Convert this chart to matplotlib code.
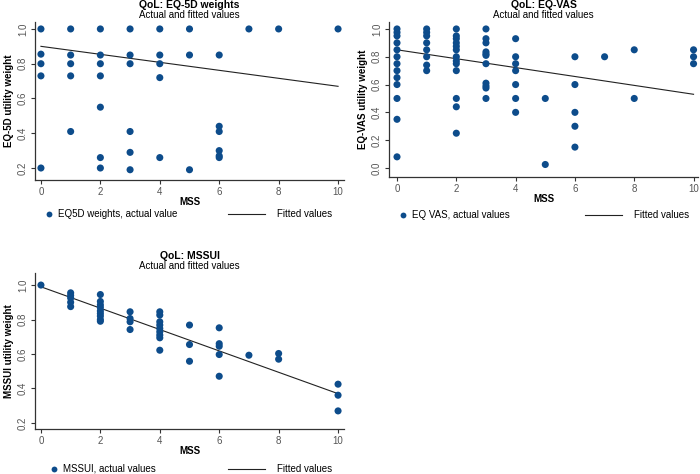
import matplotlib.pyplot as plt
from matplotlib.lines import Line2D

plt.rcParams["font.family"] = ["Liberation Sans", "DejaVu Sans"]

DOT = "#0d4c8b"
SPINE = "#333333"

# EQ-5D weights
eq5d_x = [0, 0, 0, 0, 0,
          1, 1, 1, 1, 1,
          2, 2, 2, 2, 2, 2, 2,
          3, 3, 3, 3, 3, 3,
          4, 4, 4, 4, 4,
          5, 5, 5,
          6, 6, 6, 6, 6, 6,
          7, 8, 10]
eq5d_y = [1.0, 0.855, 0.80, 0.73, 0.20,
          1.0, 0.85, 0.80, 0.73, 0.41,
          1.0, 0.85, 0.80, 0.73, 0.55, 0.26, 0.20,
          1.0, 0.85, 0.80, 0.41, 0.29, 0.19,
          1.0, 0.85, 0.80, 0.72, 0.26,
          1.0, 0.85, 0.19,
          0.85, 0.44, 0.41, 0.30, 0.27, 0.26,
          1.0, 1.0, 1.0]
eq5d_fit_x = [0, 10]
eq5d_fit_y = [0.90, 0.67]

# EQ-VAS
vas_x = [0] * 13 + [1] * 8 + [2] * 13 + [3] * 11 + [4] * 7 + [5] * 2 + [6] * 5 + [7] + [8] * 2 + [10] * 3
vas_y = [1.0, 0.975, 0.95, 0.90, 0.85, 0.80, 0.75, 0.70, 0.65, 0.60, 0.50, 0.35, 0.08,
         1.0, 0.975, 0.95, 0.90, 0.85, 0.80, 0.74, 0.70,
         1.0, 0.95, 0.93, 0.90, 0.875, 0.85, 0.80, 0.77, 0.75, 0.70, 0.50, 0.44, 0.25,
         1.0, 0.93, 0.90, 0.835, 0.82, 0.81, 0.75, 0.61, 0.59, 0.575, 0.50,
         0.93, 0.80, 0.75, 0.70, 0.60, 0.50, 0.40,
         0.50, 0.025,
         0.80, 0.60, 0.40, 0.30, 0.15,
         0.80,
         0.85, 0.50,
         0.85, 0.80, 0.75]
vas_fit_x = [0, 10]
vas_fit_y = [0.85, 0.53]

# MSSUI
mssui_x = [0] + [1] * 5 + [2] * 9 + [3] * 4 + [4] * 9 + [5] * 3 + [6] * 5 + [7] + [8] * 2 + [10] * 3
mssui_y = [1.0,
           0.955, 0.94, 0.925, 0.90, 0.875,
           0.945, 0.905, 0.885, 0.87, 0.85, 0.835, 0.82, 0.80, 0.79,
           0.845, 0.806, 0.787, 0.742,
           0.845, 0.826, 0.787, 0.768, 0.748, 0.729, 0.71, 0.694, 0.622,
           0.768, 0.655, 0.558,
           0.752, 0.66, 0.645, 0.597, 0.471,
           0.593,
           0.603, 0.57,
           0.425, 0.361, 0.27]
mssui_fit_x = [0, 10]
mssui_fit_y = [0.99, 0.37]

x_ticks = [0, 2, 4, 6, 8, 10]


def px_axes(fig, left, top, right, bottom):
    W, H = 700, 474
    return fig.add_axes([left / W, 1 - bottom / H, (right - left) / W, (bottom - top) / H])


def panel(ax, x, y, fx, fy, title, ylabel, dot_label, yticks, xlim, ylim, leg_y, leg1_x, leg2_x):
    ax.scatter(x, y, s=26, color=DOT, edgecolors="none", zorder=3)
    ax.plot(fx, fy, color="#222222", lw=0.8, zorder=2)
    ax.set_xlim(*xlim)
    ax.set_ylim(*ylim)
    ax.set_xticks(x_ticks)
    ax.set_yticks(yticks)
    ax.set_yticklabels([f"{t:.1f}" for t in yticks], rotation=90, va="center")
    for s in ["top", "right"]:
        ax.spines[s].set_visible(False)
    for s in ["left", "bottom"]:
        ax.spines[s].set_color(SPINE)
        ax.spines[s].set_linewidth(0.9)
    ax.tick_params(direction="out", length=3, width=0.8, color=SPINE,
                   labelsize=7, labelcolor="#555555", pad=2)
    ax.set_xlabel("MSS", fontsize=7, fontweight="bold", labelpad=0)
    ax.set_ylabel(ylabel, fontsize=7, fontweight="bold", labelpad=3)
    ax.text(0.5, 1.108, title, transform=ax.transAxes, ha="center", va="center",
            fontsize=7.5, fontweight="bold")
    ax.text(0.5, 1.044, "Actual and fitted values", transform=ax.transAxes,
            ha="center", va="center", fontsize=7)

    dot_handle = Line2D([], [], marker="o", ls="none", color=DOT, markersize=4.2,
                        markeredgewidth=0)
    leg1 = ax.legend([dot_handle], [dot_label], frameon=False, loc="center left",
                     bbox_to_anchor=(leg1_x, leg_y), fontsize=7, borderpad=0,
                     borderaxespad=0, handlelength=1.0, handletextpad=0.45)
    ax.add_artist(leg1)
    line_handle = Line2D([], [], color="#222222", lw=0.8)
    ax.legend([line_handle], ["Fitted values"], frameon=False, loc="center left",
              bbox_to_anchor=(leg2_x, leg_y), fontsize=7, borderpad=0,
              borderaxespad=0, handlelength=3.8, handletextpad=1.2)


fig = plt.figure(figsize=(7, 4.74), dpi=100)

ax1 = px_axes(fig, 35, 22, 344, 180)
panel(ax1, eq5d_x, eq5d_y, eq5d_fit_x, eq5d_fit_y, "QoL: EQ-5D weights",
      "EQ-5D utility weight", "EQ5D weights, actual value",
      [0.2, 0.4, 0.6, 0.8, 1.0], (-0.2, 10.2), (0.131, 1.04), -0.215, 0.029, 0.625)

ax2 = px_axes(fig, 389, 22, 698, 177)
panel(ax2, vas_x, vas_y, vas_fit_x, vas_fit_y, "QoL: EQ-VAS",
      "EQ-VAS utility weight", "EQ VAS, actual values",
      [0.0, 0.2, 0.4, 0.6, 0.8, 1.0], (-0.27, 10.15), (-0.065, 1.05), -0.245, 0.029, 0.634)

ax3 = px_axes(fig, 35, 273, 344, 429)
panel(ax3, mssui_x, mssui_y, mssui_fit_x, mssui_fit_y, "QoL: MSSUI",
      "MSSUI utility weight", "MSSUI, actual values",
      [0.2, 0.4, 0.6, 0.8, 1.0], (-0.2, 10.2), (0.165, 1.07), -0.256, 0.045, 0.625)

fig.savefig("out.png", dpi=100)
